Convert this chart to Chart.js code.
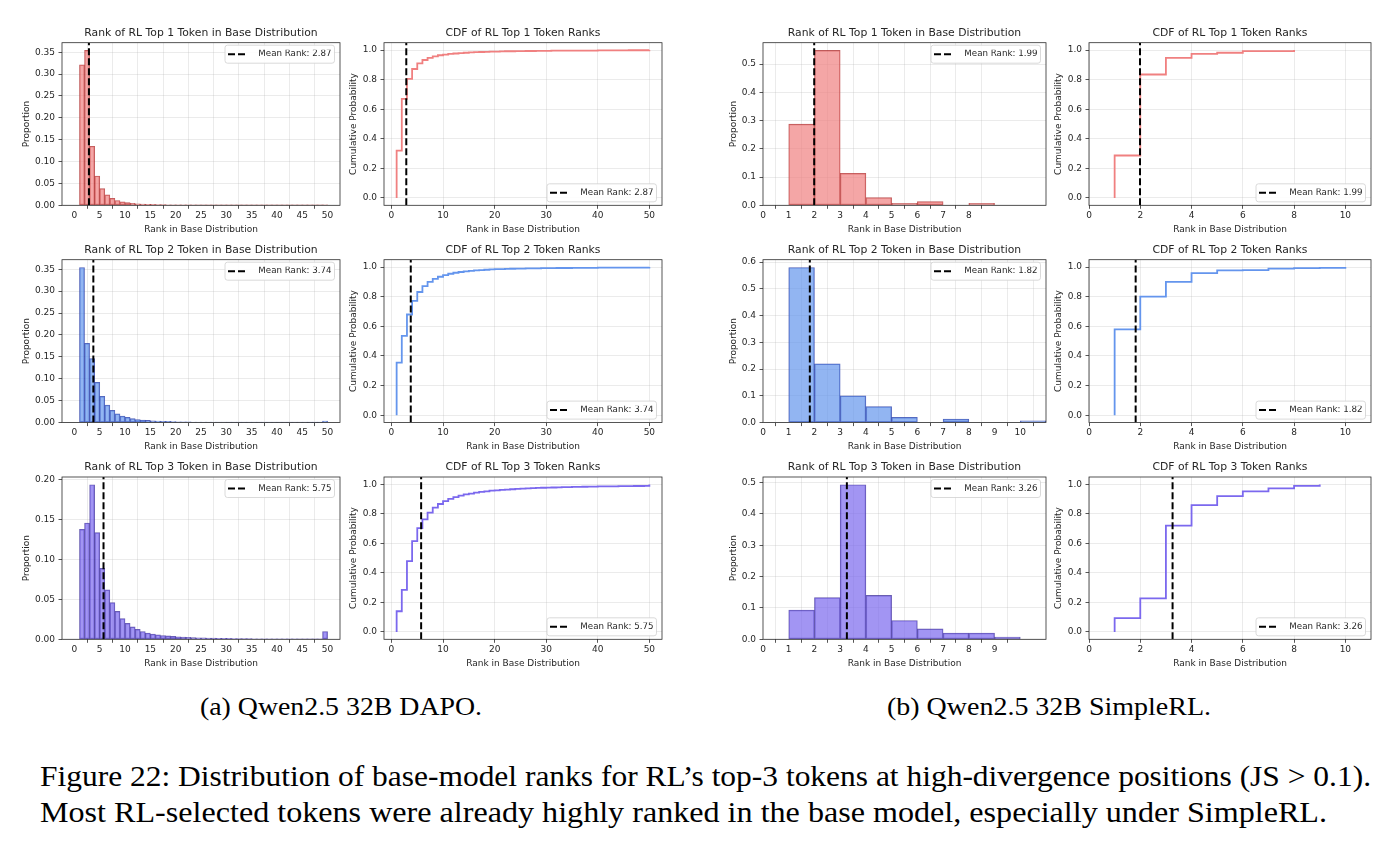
<!DOCTYPE html>
<html><head><meta charset="utf-8">
<script src="https://cdn.jsdelivr.net/npm/chart.js@4.4.0/dist/chart.umd.min.js"></script>
<style>
html,body{margin:0;padding:0;background:#fff;}
body{width:1397px;height:847px;position:relative;overflow:hidden;}
.cap{position:absolute;font-family:'Liberation Serif','Times New Roman',serif;color:#000;white-space:nowrap;line-height:1;transform-origin:0 0;}
</style></head><body>
<div class="cap" id="capA">(a) Qwen2.5 32B DAPO.</div>
<div class="cap" id="capB">(b) Qwen2.5 32B SimpleRL.</div>
<div class="cap" id="fig1">Figure 22: Distribution of base-model ranks for RL’s top-3 tokens at high-divergence positions (JS &gt; 0.1).</div>
<div class="cap" id="fig2">Most RL-selected tokens were already highly ranked in the base model, especially under SimpleRL.</div>
<script>
// ---------------- DATA ----------------
const TOKEN_NAMES = ['Top 1', 'Top 2', 'Top 3'];
const DAPO_MEAN = [2.87, 3.74, 5.75];
const SRL_MEAN = [1.99, 1.82, 3.26];

// DAPO histograms: bins [k, k+1]
const DAPO_BIN_LEFT = [1,2,3,4,5,6,7,8,9,10,11,12,13,14,15,16,17,18,19,20,21,22,23,24,25,26,27,28,29,30,31,32,33,34,35,36,37,38,39,40,41,42,43,44,45,46,47,48,49];
const DAPO_HIST_TOP1 = [0.321,0.354,0.135,0.067,0.038,0.024,0.016,0.011,0.008,0.006,0.0045,0.0036,0.003,0.0025,0.0021,0.0018,0.0015,0.0013,0.0011,0.001,0.0009,0.0008,0.0007,0.0006,0.0006,0.0005,0.0005,0.0004,0.0003,0.0003,0.0003,0.0002,0.0002,0.0002,0.0002,0.0002,0.0001,0.0001,0.0001,0.0001,0.0001,0.0001,0.0001,0.0001,0.0001,0.0001,0.0001,0.0001,0.0008];
const DAPO_HIST_TOP2 = [0.354,0.181,0.146,0.092,0.060,0.040,0.028,0.020,0.015,0.012,0.009,0.007,0.006,0.005,0.004,0.0035,0.003,0.0027,0.0024,0.002,0.0018,0.0016,0.0014,0.0012,0.0011,0.001,0.0009,0.0008,0.0007,0.0006,0.0006,0.0005,0.0005,0.0004,0.0004,0.0003,0.0003,0.0003,0.0003,0.0002,0.0002,0.0002,0.0002,0.0002,0.0002,0.0001,0.0001,0.0001,0.0035];
const DAPO_HIST_TOP3 = [0.138,0.146,0.194,0.134,0.089,0.062,0.046,0.035,0.026,0.020,0.0155,0.0125,0.0098,0.0078,0.0065,0.0056,0.0048,0.0042,0.0037,0.0032,0.0028,0.0025,0.0022,0.002,0.0018,0.0016,0.0014,0.0013,0.0012,0.0011,0.001,0.0009,0.0008,0.0008,0.0007,0.0006,0.0006,0.0005,0.0005,0.0005,0.0004,0.0004,0.0004,0.0003,0.0003,0.0003,0.0003,0.0002,0.0098];

// DAPO CDFs
const DAPO_CDF_RANKS = [1,2,3,4,5,6,7,8,9,10,11,12,13,14,15,16,17,18,19,20,21,22,23,24,25,26,27,28,29,30,31,32,33,34,35,36,37,38,39,40,41,42,43,44,45,46,47,48,49,50];
const DAPO_CDF_TOP1 = [0.32,0.67,0.805,0.872,0.91,0.933,0.948,0.958,0.965,0.97,0.974,0.977,0.98,0.982,0.984,0.986,0.987,0.988,0.989,0.99,0.991,0.992,0.992,0.993,0.993,0.994,0.994,0.995,0.995,0.995,0.996,0.996,0.996,0.996,0.997,0.997,0.997,0.997,0.997,0.998,0.998,0.998,0.998,0.998,0.998,0.999,0.999,0.999,0.999,1.0];
const DAPO_CDF_TOP2 = [0.355,0.535,0.68,0.772,0.832,0.872,0.9,0.92,0.935,0.946,0.955,0.962,0.967,0.971,0.975,0.978,0.98,0.982,0.984,0.986,0.987,0.988,0.989,0.99,0.99,0.991,0.992,0.992,0.993,0.993,0.993,0.994,0.994,0.994,0.995,0.995,0.995,0.995,0.995,0.996,0.996,0.996,0.996,0.996,0.996,0.996,0.996,0.997,0.997,1.0];
const DAPO_CDF_TOP3 = [0.14,0.285,0.48,0.615,0.703,0.763,0.808,0.842,0.867,0.887,0.902,0.914,0.924,0.932,0.938,0.944,0.949,0.953,0.957,0.96,0.963,0.965,0.967,0.969,0.971,0.973,0.974,0.976,0.977,0.978,0.979,0.98,0.981,0.982,0.983,0.983,0.984,0.985,0.985,0.986,0.986,0.987,0.987,0.988,0.988,0.988,0.989,0.989,0.99,1.0];

// SimpleRL histograms
const SRL_BIN_LEFT_TOP1 = [1,2,3,4,5,6,7,8];
const SRL_HIST_TOP1 = [0.287,0.548,0.113,0.027,0.007,0.013,0,0.007];
const SRL_BIN_LEFT_TOP2 = [1,2,3,4,5,6,7,8,9,10];
const SRL_HIST_TOP2 = [0.58,0.22,0.10,0.06,0.02,0,0.013,0,0,0.007];
const SRL_BIN_LEFT_TOP3 = [1,2,3,4,5,6,7,8,9];
const SRL_HIST_TOP3 = [0.093,0.133,0.493,0.14,0.06,0.033,0.02,0.02,0.007];

// SimpleRL CDFs
const SRL_CDF_RANKS_TOP1 = [1,2,3,4,5,6,7,8];
const SRL_CDF_TOP1 = [0.287,0.835,0.948,0.975,0.982,0.993,0.993,1.0];
const SRL_CDF_RANKS_TOP2 = [1,2,3,4,5,6,7,8,9,10];
const SRL_CDF_TOP2 = [0.58,0.80,0.90,0.96,0.978,0.98,0.99,0.993,0.995,1.0];
const SRL_CDF_RANKS_TOP3 = [1,2,3,4,5,6,7,8,9];
const SRL_CDF_TOP3 = [0.093,0.227,0.72,0.86,0.92,0.953,0.973,0.99,1.0];

// Ticks
const DAPO_HIST_XTICKS = [0,5,10,15,20,25,30,35,40,45,50];
const DAPO_HIST_XLABELS = ['0','5','10','15','20','25','30','35','40','45','50'];
const DAPO_CDF_XTICKS = [0,10,20,30,40,50];
const DAPO_CDF_XLABELS = ['0','10','20','30','40','50'];
const DAPO_HIST_YTICKS_12 = [0,0.05,0.10,0.15,0.20,0.25,0.30,0.35];
const DAPO_HIST_YLABELS_12 = ['0.00','0.05','0.10','0.15','0.20','0.25','0.30','0.35'];
const DAPO_HIST_YTICKS_3 = [0,0.05,0.10,0.15,0.20];
const DAPO_HIST_YLABELS_3 = ['0.00','0.05','0.10','0.15','0.20'];
const CDF_YTICKS = [0,0.2,0.4,0.6,0.8,1.0];
const CDF_YLABELS = ['0.0','0.2','0.4','0.6','0.8','1.0'];
const SRL_HIST_XTICKS_TOP1 = [0,1,2,3,4,5,6,7,8];
const SRL_HIST_XTICKS_TOP2 = [0,1,2,3,4,5,6,7,8,9,10];
const SRL_HIST_XTICKS_TOP3 = [0,1,2,3,4,5,6,7,8,9];
const SRL_HIST_YTICKS_TOP1 = [0,0.1,0.2,0.3,0.4,0.5];
const SRL_HIST_YLABELS_TOP1 = ['0.0','0.1','0.2','0.3','0.4','0.5'];
const SRL_HIST_YTICKS_TOP2 = [0,0.1,0.2,0.3,0.4,0.5,0.6];
const SRL_HIST_YLABELS_TOP2 = ['0.0','0.1','0.2','0.3','0.4','0.5','0.6'];
const SRL_HIST_YTICKS_TOP3 = [0,0.1,0.2,0.3,0.4,0.5];
const SRL_HIST_YLABELS_TOP3 = ['0.0','0.1','0.2','0.3','0.4','0.5'];
const SRL_CDF_XTICKS = [0,2,4,6,8,10];
const SRL_CDF_XLABELS = ['0','2','4','6','8','10'];

// ---------------- STYLE / LAYOUT ----------------
const FONT = "'DejaVu Sans', sans-serif";
const TXT = '#262626';
const GRID = 'rgba(176,176,176,0.32)';
const SPINE = '#2b2b2b';
const PALETTE = [
  {fill:'rgba(240,128,128,0.7)', edge:'rgba(170,35,35,0.75)', line:'#F08080'},
  {fill:'rgba(100,149,237,0.7)', edge:'rgba(25,45,160,0.75)', line:'#6495ED'},
  {fill:'rgba(123,104,238,0.7)', edge:'rgba(55,40,150,0.75)', line:'#7B68EE'}
];
const COLS = {
  AH:{pl:62, pr:340, yd:35},
  AC:{pl:384, pr:662, yd:30},
  BH:{pl:763, pr:1046, yd:29},
  BC:{pl:1089, pr:1371, yd:30}
};
const ROWS = [{pt:42.7, pb:205.3},{pt:259.7, pb:422.6},{pt:477, pb:639.3}];
const TITLE_FS = 10.8, TICK_FS = 9, LABEL_FS = 9, LEG_FS = 8.7;
const TH = 2 + TITLE_FS*1.2 + 3;
const XH = 30;

const axesFrame = {
  id:'axesFrame',
  afterLayout(chart, args, opts) {
    const lg = chart.legend, ca = chart.chartArea;
    if (!lg) return;
    const fw = 109.5, fh = 18;
    const fx = ca.right - 5.5 - fw;
    const fy = opts.corner === 'top' ? ca.top + 2.5 : ca.bottom - 3.5 - fh;
    lg._frameBox = {x:fx, y:fy, w:fw, h:fh};
    lg.left = fx + 3; lg.right = fx + fw - 3; lg.width = lg.right - lg.left;
    lg.top = fy + fh/2 - LEG_FS/2; lg.height = 40; lg.bottom = lg.top + 40;
    if (!lg._frameWrapped) {
      const orig = lg.draw;
      lg.draw = function() {
        const b = this._frameBox, ctx = this.ctx;
        if (b) {
          ctx.save();
          const r = 2.5;
          ctx.beginPath();
          ctx.moveTo(b.x + r, b.y);
          ctx.lineTo(b.x + b.w - r, b.y);
          ctx.arcTo(b.x + b.w, b.y, b.x + b.w, b.y + r, r);
          ctx.lineTo(b.x + b.w, b.y + b.h - r);
          ctx.arcTo(b.x + b.w, b.y + b.h, b.x + b.w - r, b.y + b.h, r);
          ctx.lineTo(b.x + r, b.y + b.h);
          ctx.arcTo(b.x, b.y + b.h, b.x, b.y + b.h - r, r);
          ctx.lineTo(b.x, b.y + r);
          ctx.arcTo(b.x, b.y, b.x + r, b.y, r);
          ctx.closePath();
          ctx.fillStyle = 'rgba(255,255,255,0.9)';
          ctx.fill();
          ctx.lineWidth = 0.8;
          ctx.strokeStyle = '#d0d0d0';
          ctx.stroke();
          ctx.restore();
        }
        return orig.apply(this, arguments);
      };
      lg._frameWrapped = true;
    }
  },
  afterDatasetsDraw(chart) {
    const ca = chart.chartArea, ctx = chart.ctx;
    ctx.save();
    ctx.strokeStyle = SPINE;
    ctx.lineWidth = 0.8;
    ctx.strokeRect(ca.left, ca.top, ca.right - ca.left, ca.bottom - ca.top);
    ctx.restore();
  }
};

function addPanel(p) {
  const c = COLS[p.col], r = ROWS[p.row];
  const yw0 = c.yd + LABEL_FS*1.2/2;
  const cl = Math.floor(c.pl - yw0), yw = c.pl - cl;
  const ct = Math.floor(r.pt - TH), padTop = r.pt - TH - ct;
  const cw = Math.ceil(c.pr + 6 - cl), padRight = cw - (c.pr - cl);
  const ch = Math.ceil(r.pb + XH - ct), padBottom = ch - XH - (r.pb - ct);
  const cv = document.createElement('canvas');
  cv.width = cw; cv.height = ch;
  cv.style.cssText = `position:absolute;left:${cl}px;top:${ct}px;width:${cw}px;height:${ch}px;`;
  document.body.appendChild(cv);

  const pal = PALETTE[p.token];
  const ymin = p.ymin, ymax = p.ymax;
  const meanDs = {
    type:'line', label:'Mean Rank: ' + p.mean.toFixed(2),
    data:[{x:p.mean, y:ymin}, {x:p.mean, y:ymax}],
    borderColor:'#000', borderWidth:2, borderDash:[7,3], pointRadius:0, order:0, tension:0
  };
  let datasets;
  if (p.kind === 'hist') {
    datasets = [meanDs, {
      type:'bar',
      data:p.bins.map((b, i) => ({x:b + 0.5, y:p.vals[i]})),
      backgroundColor:pal.fill, borderColor:pal.edge, borderWidth:0.8, borderSkipped:false,
      barPercentage:1, categoryPercentage:1, grouped:false, order:1
    }];
  } else {
    const pts = [{x:p.ranks[0], y:0}].concat(p.ranks.map((rk, i) => ({x:rk, y:p.vals[i]})));
    datasets = [meanDs, {
      type:'line', data:pts, borderColor:pal.line, borderWidth:1.8, pointRadius:0,
      stepped:'before', tension:0, order:1
    }];
  }
  const tickFont = {family:FONT, size:TICK_FS};
  const labFont = {family:FONT, size:LABEL_FS};
  const gridOpts = {color:GRID, lineWidth:0.8, drawTicks:true, tickLength:3.5, tickColor:SPINE, tickWidth:0.8};
  new Chart(cv, {
    type: p.kind === 'hist' ? 'bar' : 'line',
    data:{datasets},
    plugins:[axesFrame],
    options:{
      responsive:false, animation:false, devicePixelRatio:1, events:[],
      layout:{padding:{left:0, top:padTop, right:padRight, bottom:padBottom}},
      scales:{
        x:{
          type:'linear', min:p.xmin, max:p.xmax, offset:false,
          afterBuildTicks:(s) => { s.ticks = p.xt.map(v => ({value:v})); },
          afterFit:(s) => { s.height = XH; },
          ticks:{autoSkip:false, maxRotation:0, minRotation:0, padding:1, font:tickFont, color:TXT,
                 callback:(v, i) => p.xl[i]},
          grid:gridOpts, border:{display:false},
          title:{display:true, text:'Rank in Base Distribution', font:labFont, color:TXT, padding:{top:0, bottom:0.6}}
        },
        y:{
          type:'linear', min:ymin, max:ymax,
          afterBuildTicks:(s) => { s.ticks = p.yt.map(v => ({value:v})); },
          afterFit:(s) => { s.width = yw; },
          ticks:{autoSkip:false, padding:3.5, font:tickFont, color:TXT, callback:(v, i) => p.yl[i]},
          grid:gridOpts, border:{display:false},
          title:{display:true, text:p.kind === 'hist' ? 'Proportion' : 'Cumulative Probability',
                 font:labFont, color:TXT, padding:{top:0, bottom:0}}
        }
      },
      plugins:{
        tooltip:{enabled:false},
        title:{display:true, fullSize:false, text:p.title, color:TXT,
               font:{family:FONT, size:TITLE_FS, weight:'normal'}, padding:{top:2, bottom:3}},
        legend:{
          display:true, position:'chartArea', align:'start',
          labels:{
            usePointStyle:true, pointStyleWidth:17.7, padding:0, textAlign:'right',
            font:{family:FONT, size:LEG_FS}, color:TXT,
            generateLabels:() => [{text:'Mean Rank: ' + p.mean.toFixed(2), fillStyle:'rgba(0,0,0,0)',
              strokeStyle:'#000', fontColor:TXT, lineWidth:2, lineDash:[7,3], pointStyle:'line',
              hidden:false, datasetIndex:0}]
          }
        },
        axesFrame:{corner: p.kind === 'hist' ? 'top' : 'bottom'}
      }
    }
  });
}

const histYMax = (vals) => Math.max(...vals) * 1.05;

const DAPO_HISTS = [DAPO_HIST_TOP1, DAPO_HIST_TOP2, DAPO_HIST_TOP3];
const DAPO_CDFS = [DAPO_CDF_TOP1, DAPO_CDF_TOP2, DAPO_CDF_TOP3];
const SRL_BINS = [SRL_BIN_LEFT_TOP1, SRL_BIN_LEFT_TOP2, SRL_BIN_LEFT_TOP3];
const SRL_HISTS = [SRL_HIST_TOP1, SRL_HIST_TOP2, SRL_HIST_TOP3];
const SRL_XT = [SRL_HIST_XTICKS_TOP1, SRL_HIST_XTICKS_TOP2, SRL_HIST_XTICKS_TOP3];
const SRL_YT = [SRL_HIST_YTICKS_TOP1, SRL_HIST_YTICKS_TOP2, SRL_HIST_YTICKS_TOP3];
const SRL_YL = [SRL_HIST_YLABELS_TOP1, SRL_HIST_YLABELS_TOP2, SRL_HIST_YLABELS_TOP3];
const SRL_CDF_RANKS = [SRL_CDF_RANKS_TOP1, SRL_CDF_RANKS_TOP2, SRL_CDF_RANKS_TOP3];
const SRL_CDFS = [SRL_CDF_TOP1, SRL_CDF_TOP2, SRL_CDF_TOP3];

for (let k = 0; k < 3; k++) {
  const tok = TOKEN_NAMES[k];
  addPanel({col:'AH', row:k, kind:'hist', token:k, bins:DAPO_BIN_LEFT, vals:DAPO_HISTS[k], mean:DAPO_MEAN[k],
    xmin:-2.45, xmax:52.45, xt:DAPO_HIST_XTICKS, xl:DAPO_HIST_XLABELS,
    ymin:0, ymax:histYMax(DAPO_HISTS[k]),
    yt:k < 2 ? DAPO_HIST_YTICKS_12 : DAPO_HIST_YTICKS_3, yl:k < 2 ? DAPO_HIST_YLABELS_12 : DAPO_HIST_YLABELS_3,
    title:'Rank of RL ' + tok + ' Token in Base Distribution'});
  addPanel({col:'AC', row:k, kind:'cdf', token:k, ranks:DAPO_CDF_RANKS, vals:DAPO_CDFS[k], mean:DAPO_MEAN[k],
    xmin:-1.45, xmax:52.45, xt:DAPO_CDF_XTICKS, xl:DAPO_CDF_XLABELS,
    ymin:-0.05, ymax:1.05, yt:CDF_YTICKS, yl:CDF_YLABELS,
    title:'CDF of RL ' + tok + ' Token Ranks'});
  addPanel({col:'BH', row:k, kind:'hist', token:k, bins:SRL_BINS[k], vals:SRL_HISTS[k], mean:SRL_MEAN[k],
    xmin:0, xmax:11, xt:SRL_XT[k], xl:SRL_XT[k].map(String),
    ymin:0, ymax:histYMax(SRL_HISTS[k]), yt:SRL_YT[k], yl:SRL_YL[k],
    title:'Rank of RL ' + tok + ' Token in Base Distribution'});
  addPanel({col:'BC', row:k, kind:'cdf', token:k, ranks:SRL_CDF_RANKS[k], vals:SRL_CDFS[k], mean:SRL_MEAN[k],
    xmin:0, xmax:11, xt:SRL_CDF_XTICKS, xl:SRL_CDF_XLABELS,
    ymin:-0.05, ymax:1.05, yt:CDF_YTICKS, yl:CDF_YLABELS,
    title:'CDF of RL ' + tok + ' Token Ranks'});
}

// ---------------- CAPTIONS ----------------
function placeCap(id, fs, baseline, opts) {
  const el = document.getElementById(id);
  el.style.fontSize = fs + 'px';
  const w = el.getBoundingClientRect().width;
  const s = opts.width / w;
  el.style.transform = 'scaleX(' + s + ')';
  el.style.top = (baseline - 0.8375 * fs) + 'px';
  el.style.left = (opts.center !== undefined ? opts.center - opts.width / 2 : opts.left) + 'px';
}
placeCap('capA', 26, 716, {center:341, width:282});
placeCap('capB', 26, 716, {center:1049, width:324});
placeCap('fig1', 30, 786, {left:40, width:1331});
placeCap('fig2', 30, 822, {left:40, width:1287});
</script>
</body></html>
